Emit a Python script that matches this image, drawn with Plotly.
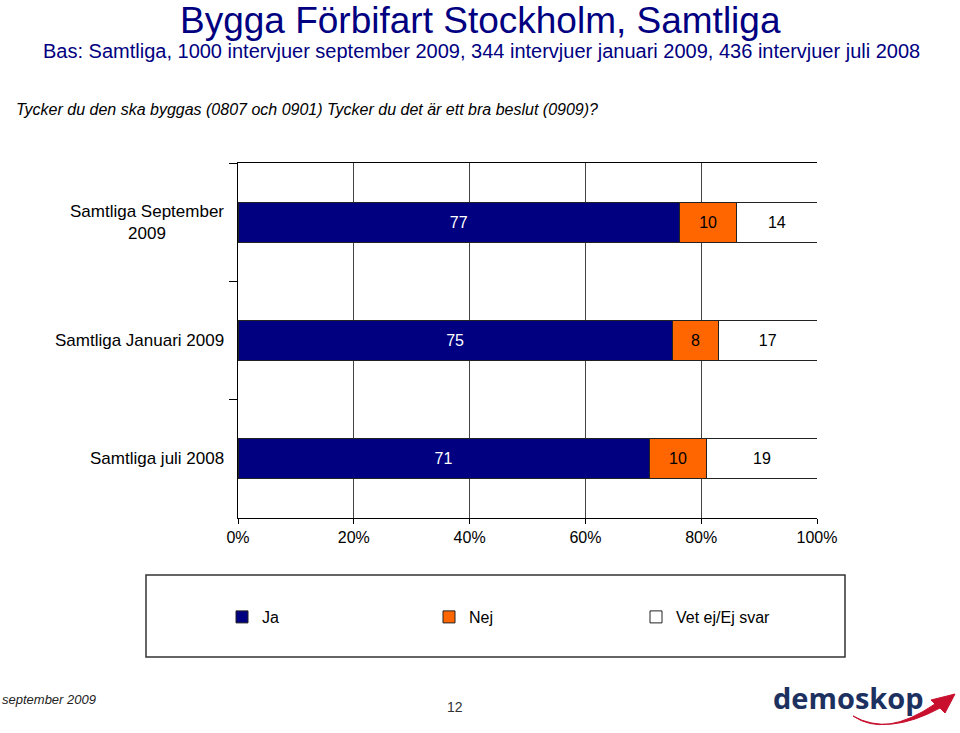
import plotly.graph_objects as go

categories = ["Samtliga September 2009", "Samtliga Januari 2009", "Samtliga juli 2008"]
cat_labels = ["Samtliga September<br>2009", "Samtliga Januari 2009", "Samtliga juli 2008"]
ja = [77, 75, 71]
nej = [10, 8, 10]
vet_ej = [14, 17, 19]
x_ticks = [0, 20, 40, 60, 80, 100]
x_tick_labels = [f"{v}%" for v in x_ticks]

NAVY = "#000080"
ORANGE = "#FF6600"
FONT = "Liberation Sans, Arial, sans-serif"

# plot area in page pixels
PX0, PX1, PY0, PY1 = 238, 817, 163, 518
W, H = 960, 733


def px(x):
    return (x - PX0) / (PX1 - PX0)


def py(y):
    return (PY1 - y) / (PY1 - PY0)


fig = go.Figure()
series = [("Ja", ja, NAVY, "white"), ("Nej", nej, ORANGE, "black"), ("Vet ej/Ej svar", vet_ej, "white", "black")]
for name, vals, col, tcol in series:
    fig.add_trace(go.Bar(
        name=name, y=categories, x=vals, orientation="h",
        marker=dict(color=col, line=dict(color="#222222", width=1)),
        text=[str(v) for v in vals], textposition="inside", insidetextanchor="middle",
        textfont=dict(color=tcol, size=16, family=FONT),
        hoverinfo="skip",
    ))

fig.update_layout(
    width=W, height=H,
    barmode="stack", barnorm="percent", bargap=0.66,
    plot_bgcolor="white", paper_bgcolor="white",
    margin=dict(l=PX0, r=W - PX1, t=PY0, b=H - PY1),
    font=dict(family=FONT, color="black", size=15),
    showlegend=True,
    legend=dict(orientation="h", x=px(222), y=py(617), xanchor="left", yanchor="middle",
                entrywidth=162, entrywidthmode="pixels", traceorder="normal",
                font=dict(size=16, family=FONT), bgcolor="rgba(0,0,0,0)", itemwidth=30),
)
fig.update_xaxes(
    range=[0, 100], tickmode="array", tickvals=x_ticks, ticktext=x_tick_labels,
    showgrid=True, gridcolor="#444444", gridwidth=1,
    showline=True, linecolor="black", linewidth=1, mirror=True, ticks="outside", ticklen=5,
    tickcolor="black", tickfont=dict(size=16), zeroline=False, fixedrange=True,
)
fig.update_yaxes(
    categoryorder="array", categoryarray=categories, autorange="reversed",
    showticklabels=False, showline=True, linecolor="black", linewidth=1,
    ticks="outside", tickson="boundaries", ticklen=8, tickcolor="black", showgrid=False,
)

for cat, lab in zip(categories, cat_labels):
    fig.add_annotation(x=px(226), xref="paper", y=cat, yref="y", text=lab, showarrow=False,
                       xanchor="right", yanchor="middle", align="center",
                       font=dict(size=17, color="black", family=FONT))

# titles
fig.add_annotation(x=px(480), y=py(20), xref="paper", yref="paper", text="Bygga Förbifart Stockholm, Samtliga",
                   showarrow=False, xanchor="center", yanchor="middle",
                   font=dict(size=37, color=NAVY, family=FONT))
fig.add_annotation(x=px(481), y=py(51), xref="paper", yref="paper",
                   text="Bas: Samtliga, 1000 intervjuer september 2009, 344 intervjuer januari 2009, 436 intervjuer juli 2008",
                   showarrow=False, xanchor="center", yanchor="middle",
                   font=dict(size=20, color=NAVY, family=FONT))
fig.add_annotation(x=px(14), y=py(109), xref="paper", yref="paper",
                   text="<i>Tycker du den ska byggas (0807 och 0901) Tycker du det är ett bra beslut (0909)?</i>",
                   showarrow=False, xanchor="left", yanchor="middle",
                   font=dict(size=16, color="black", family=FONT))

# legend box
fig.add_shape(type="rect", xref="paper", yref="paper", x0=px(146), x1=px(845), y0=py(657), y1=py(575),
              line=dict(color="#333333", width=1.5), fillcolor="rgba(0,0,0,0)")

# footer
fig.add_annotation(x=px(0), y=py(699), xref="paper", yref="paper", text="<i>september 2009</i>",
                   showarrow=False, xanchor="left", yanchor="middle",
                   font=dict(size=13, color="#222222", family=FONT))
fig.add_annotation(x=px(455), y=py(707), xref="paper", yref="paper", text="12",
                   showarrow=False, xanchor="center", yanchor="middle",
                   font=dict(size=14, color="#333333", family=FONT))
fig.add_annotation(x=px(849), y=py(697), xref="paper", yref="paper", text="<b>demoskop</b>",
                   showarrow=False, xanchor="center", yanchor="middle",
                   font=dict(size=29, color="#1D3161", family="Open Sans, DejaVu Sans, sans-serif"))
swoosh = (f"M {px(853)},{py(716)} Q {px(885)},{py(738)} {px(935)},{py(704)} "
          f"L {px(931)},{py(700)} L {px(955)},{py(694)} L {px(945)},{py(713)} L {px(940)},{py(708)} "
          f"Q {px(888)},{py(736)} {px(853)},{py(716)} Z")
fig.add_shape(type="path", xref="paper", yref="paper", path=swoosh,
              fillcolor="#C8102E", line=dict(color="#C8102E", width=1))

fig.write_html("out.html", config={"displayModeBar": False},
               post_script="document.body.style.margin='0px';")
